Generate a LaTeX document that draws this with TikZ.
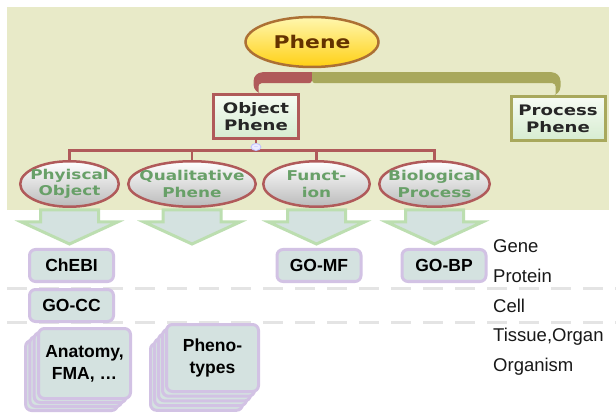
\documentclass[tikz,border=0pt]{standalone}
\usepackage{fontspec}
\newfontfamily\mapfont[FakeStretch=1.25]{DejaVu Sans}
\newfontfamily\arialfont{Liberation Sans}
\usetikzlibrary{shapes.geometric}

\definecolor{bgkhaki}{RGB}{232,234,200}
\definecolor{roottop}{RGB}{255,247,175}
\definecolor{rootbottom}{RGB}{255,208,20}
\definecolor{rootdraw}{RGB}{172,112,52}
\definecolor{rootfont}{RGB}{100,50,0}
\definecolor{redline}{RGB}{176,90,90}
\definecolor{oliveline}{RGB}{168,168,92}
\definecolor{boxtop}{RGB}{246,251,243}
\definecolor{boxbottom}{RGB}{214,236,208}
\definecolor{leafgreen}{RGB}{104,160,104}
\definecolor{arrowfill}{RGB}{212,226,224}
\definecolor{arrowdraw}{RGB}{188,222,176}
\definecolor{lavender}{RGB}{210,194,228}
\definecolor{dashgray}{RGB}{228,228,228}

\begin{document}
\begin{tikzpicture}
	[%
	x=1pt, y=-1pt,%
	root/.style   ={ellipse,	draw=rootdraw,	line width=2.5pt,	top color=roottop,	bottom color=rootbottom,	minimum width=133pt,	minimum height=50pt,	text=rootfont,	font=\mapfont\bfseries\fontsize{17.5}{20}\selectfont},%
	concept/.style={rectangle,	line width=3pt,	top color=boxtop,	bottom color=boxbottom,	minimum height=44pt,	inner sep=2pt,	align=center,	text=black!85,	font=\mapfont\bfseries\fontsize{14.5}{17}\selectfont},%
	leaf/.style   ={ellipse,	draw=redline,	line width=2.5pt,	top color=white,	bottom color=black!27,	minimum height=45.5pt,	inner sep=0pt},%
	leaftext/.style={align=center,	inner sep=0pt,	text=leafgreen,	font=\mapfont\bfseries\fontsize{13.5}{16.5}\selectfont},%
	onto/.style   ={rectangle,	rounded corners=6pt,	draw=lavender,	line width=3pt,	fill=arrowfill,	minimum width=84pt,	minimum height=32pt,	align=center,	font=\arialfont\bfseries\fontsize{17.5}{22}\selectfont},%
	level/.style  ={anchor=base west,	inner sep=0pt,	text=black!90,	font=\arialfont\fontsize{18.5}{20}\selectfont},%
	treeline/.style={draw=redline,	line width=2.5pt},%
	bigarrow/.style={draw=arrowdraw,	fill=arrowfill,	line width=3pt,	line join=miter},%
	levelsep/.style={draw=dashgray,	line width=3pt,	dash pattern=on 20pt off 12pt},%
	]

	\useasboundingbox (0,0) rectangle (616,414);
	\fill[white] (0,0) rectangle (616,414);
	\fill[bgkhaki] (7,7) rectangle (609,210);

	% level separators
	\draw[levelsep] (7,288) -- (616,288);
	\draw[levelsep] (7,322) -- (616,322);

	% nodes
	\node (phene) at (312,42) [root] {Phene};

	\node (object)  at (256,117) [concept, draw=redline,   minimum width=85pt] {Object\\Phene};
	\node (process) at (558,119) [concept, draw=oliveline, minimum width=94pt] {Process\\Phene};

	\node (phys) at ( 69.5,184) [leaf, minimum width= 98.5pt, label={[leaftext]center:{Phyiscal\\Object}}] {};
	\node (qual) at (192,  184) [leaf, minimum width=127.5pt, label={[leaftext]center:{Qualitative\\Phene}}] {};
	\node (func) at (316.5,184) [leaf, minimum width=106.5pt, label={[leaftext]center:{Funct-\\ion}}] {};
	\node (bio)  at (434.5,184) [leaf, minimum width=110.5pt, label={[leaftext]center:{Biological\\Process}}] {};

	\node (chebi) at ( 71.5,265.5) [onto] {ChEBI};
	\node (gomf)  at (319,  265.5) [onto] {GO-MF};
	\node (gobp)  at (444,  265.5) [onto] {GO-BP};
	\node (gocc)  at ( 71.5,305.5) [onto] {GO-CC};

	\foreach \k in {3,2,1} \node (anatomy\k) at (84.5-4.3*\k,363.5+4*\k) [onto, minimum width=92pt, minimum height=70pt] {};
	\node (anatomy) at (84.5,363.5) [onto, minimum width=92pt, minimum height=70pt] {Anatomy,\\FMA, …};

	\foreach \k in {4,3,2,1} \node (pheno\k) at (212.5-4*\k,358+4.7*\k) [onto, minimum width=92pt, minimum height=67pt] {};
	\node (pheno) at (212.5,358) [onto, minimum width=92pt, minimum height=67pt] {Pheno-\\types};

	\foreach \t [count=\i from 0] in {Gene, Protein, Cell, {Tissue,Organ}, Organism}
		\node (level\i) at (493,252.5+29.8*\i) [level] {\t};

	% interconnections
	\fill[redline] ([yshift=-4pt]phene.south) [rounded corners=9pt] -| ([xshift=-2.5pt]object.north) [sharp corners] -- ([xshift=2.5pt]object.north) [rounded corners=3pt] |- ([yshift=-15pt]phene.south) [sharp corners] -- cycle;
	\fill[oliveline] ([yshift=-4pt]phene.south) [rounded corners=9pt] -| ([xshift=2.5pt]process.north) [sharp corners] -- ([xshift=-2.5pt]process.north) [rounded corners=3pt] |- ([yshift=-15pt]phene.south) [sharp corners] -- cycle;

	\foreach \n in {phys,qual,func,bio} \draw[treeline] (object.south) -- ++(0,10) -| (\n.north);
	\node (collapse) at (256,147) [ellipse, draw=blue!25, fill=blue!8, line width=0.8pt, minimum width=10pt, minimum height=7pt, inner sep=0pt, text=blue!40, font=\tiny] {$-$};

	\foreach \n in {phys,qual,func,bio}
		\draw[bigarrow, shift={(\n.south)}] (-29,2) -- (29,2) -- (29,14) -- (48,14) -- (0,36) -- (-48,14) -- (-29,14) -- cycle;

\end{tikzpicture}
\end{document}
